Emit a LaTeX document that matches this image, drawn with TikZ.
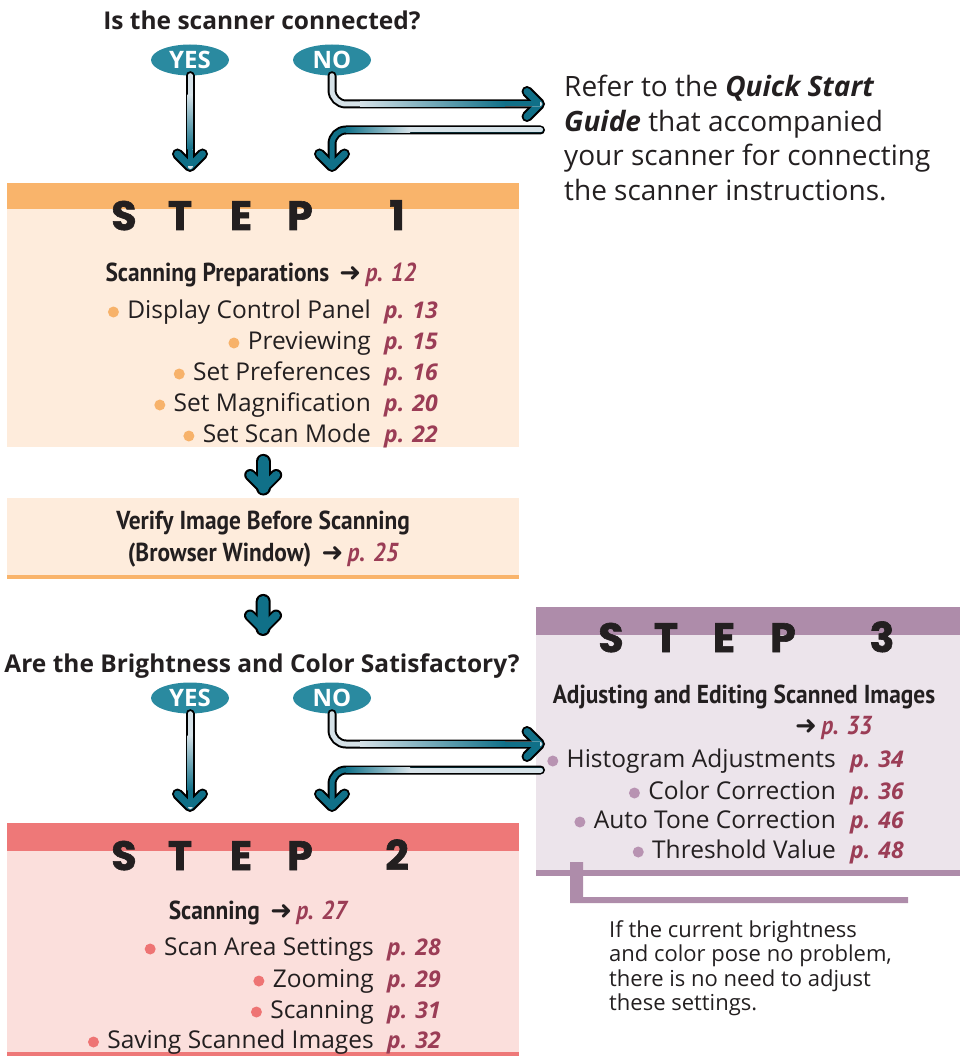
\documentclass[tikz,border=0pt]{standalone}
\usepackage{fontspec}
\setmainfont{Open Sans}
\newfontfamily\condfont{PT Sans}[FakeStretch=0.9]
\newfontfamily\stepfont{Poppins}[BoldFeatures={FakeBold=1.5}]
\newfontfamily\arrowfont{DejaVu Sans}
\usepackage{xcolor}
\usepackage{tikz}
\usetikzlibrary{shapes.geometric,positioning,calc}

\definecolor{ink}{HTML}{231F20}
\definecolor{ansteal}{HTML}{2A8AA0}
\definecolor{arrowteal}{HTML}{107088}
\definecolor{shaftlt}{HTML}{D6E2E8}
\definecolor{pagered}{HTML}{9B3D56}
\definecolor{onebar}{HTML}{F9B46B}
\definecolor{onebody}{HTML}{FEECDC}
\definecolor{twobar}{HTML}{EE7878}
\definecolor{twobody}{HTML}{FBDFDC}
\definecolor{threebar}{HTML}{AE8CAA}
\definecolor{threebody}{HTML}{ECE4EB}
\definecolor{onedot}{HTML}{F7B26A}
\definecolor{twodot}{HTML}{EE7474}
\definecolor{threedot}{HTML}{B893B2}

\newcommand{\pgarrow}{{\arrowfont\fontsize{26}{26}\selectfont ➜}}

\tikzset{
  chevdown/.pic={
    \draw[headrim] (-12.5,-12.5) -- (0,0) -- (12.5,-12.5);
    \draw[headcore] (-12.5,-12.5) -- (0,0) -- (12.5,-12.5);
  },
  chevright/.pic={
    \draw[headrim] (-12.5,-12.5) -- (0,0) -- (-12.5,12.5);
    \draw[headcore] (-12.5,-12.5) -- (0,0) -- (-12.5,12.5);
  },
  chevfat/.pic={
    \draw[headrim, line width=12pt] (-13,-13) -- (0,0) -- (13,-13);
    \draw[headcore, line width=8pt] (-13,-13) -- (0,0) -- (13,-13);
  },
}

\begin{document}
\begin{tikzpicture}[x=1pt, y=-1pt,
    ans/.style={ellipse, fill=ansteal, text=white, inner sep=0pt,
                minimum width=78pt, minimum height=31pt,
                font=\bfseries\fontsize{24}{24}\selectfont},
    quest/.style={anchor=base, inner sep=0pt, text=ink,
                  font=\bfseries\fontsize{24.5}{24.5}\selectfont},
    stepbox/.style={rectangle, anchor=north west, inner sep=0pt},
    steplet/.style={anchor=base, inner sep=0pt, text=ink,
                    font=\stepfont\bfseries\fontsize{41}{41}\selectfont},
    head/.style={anchor=base, inner sep=0pt, text=ink,
                 font=\condfont\bfseries\fontsize{26}{32}\selectfont},
    item/.style={anchor=base east, inner sep=0pt, text height=18pt, text depth=6pt,
                 text=ink, font=\fontsize{24.5}{24.5}\selectfont},
    pref/.style={inner sep=0pt, text height=18pt, text depth=6pt, text=pagered,
                 font=\bfseries\itshape\fontsize{23}{23}\selectfont},
    dot/.style={circle, inner sep=0pt, minimum size=11pt},
    rim/.style={draw=black, line width=9pt, line cap=round, rounded corners=14pt},
    core/.style={draw=shaftlt, line width=5pt, line cap=round, rounded corners=14pt},
    fatrim/.style={draw=black, line width=15pt, line cap=round},
    fatcore/.style={draw=arrowteal, line width=11pt, line cap=round},
    headrim/.style={draw=black, line width=11pt, line cap=round, line join=round},
    headcore/.style={draw=arrowteal, line width=7pt, line cap=round, line join=round},
  ]
  \useasboundingbox (0,0) rectangle (960,1056);

  % Step 1 box
  \node[stepbox, fill=onebody, minimum width=512pt, minimum height=264pt] (s1) at (7,183) {};
  \fill[onebar] (s1.north west) rectangle ([yshift=-26pt]s1.north east);
  \foreach \ch/\xx in {S/124, T/180, E/241, P/300, 1/397}
    \node[steplet] (s1l\ch) at (\xx,230) {\ch};
  \node[head] (prep) at (261,281) {Scanning Preparations \,\pgarrow\,\textcolor{pagered}{\itshape p. 12}};

  \node[item] (prep1) at (371,318) {Display Control Panel};
  \node[item] (prep2) at (371,349) {Previewing};
  \node[item] (prep3) at (371,380) {Set Preferences};
  \node[item] (prep4) at (371,411) {Set Magnification};
  \node[item] (prep5) at (371,442) {Set Scan Mode};
  \node[pref, right=13pt of prep1] (prep1pg) {p. 13};
  \node[pref, right=13pt of prep2] (prep2pg) {p. 15};
  \node[pref, right=13pt of prep3] (prep3pg) {p. 16};
  \node[pref, right=13pt of prep4] (prep4pg) {p. 20};
  \node[pref, right=13pt of prep5] (prep5pg) {p. 22};
  \node[dot, fill=onedot, left=8pt of prep1] (prep1dot) {};
  \node[dot, fill=onedot, left=8pt of prep2] (prep2dot) {};
  \node[dot, fill=onedot, left=8pt of prep3] (prep3dot) {};
  \node[dot, fill=onedot, left=8pt of prep4] (prep4dot) {};
  \node[dot, fill=onedot, left=8pt of prep5] (prep5dot) {};

  % Verify box
  \node[stepbox, fill=onebody, minimum width=512pt, minimum height=81pt,
        align=center, text=ink, font=\condfont\bfseries\fontsize{26}{32}\selectfont]
        (verify) at (7,498) {Verify Image Before Scanning\\(Browser Window) \,\pgarrow\,\textcolor{pagered}{\itshape p. 25}};
  \fill[onebar] ([yshift=4.5pt]verify.south west) rectangle (verify.south east);

  % Step 3 box
  \node[stepbox, fill=threebody, minimum width=424pt, minimum height=269pt] (s3) at (536,607) {};
  \fill[threebar] (s3.north west) rectangle ([yshift=-28pt]s3.north east);
  \fill[threebar] ([yshift=6pt]s3.south west) rectangle (s3.south east);
  \foreach \ch/\xx in {S/611, T/666, E/724, P/783, 3/882}
    \node[steplet] (s3l\ch) at (\xx,652) {\ch};
  \node[head] (adj) at (744,703) {Adjusting and Editing Scanned Images};
  \node[head, anchor=base west] (adjpg) at (795,734) {\pgarrow\,\textcolor{pagered}{\itshape p. 33}};

  \node[item] (adj1) at (836,767) {Histogram Adjustments};
  \node[item] (adj2) at (836,799) {Color Correction};
  \node[item] (adj3) at (836,828) {Auto Tone Correction};
  \node[item] (adj4) at (836,858) {Threshold Value};
  \node[pref, right=14pt of adj1] (adj1pg) {p. 34};
  \node[pref, right=14pt of adj2] (adj2pg) {p. 36};
  \node[pref, right=14pt of adj3] (adj3pg) {p. 46};
  \node[pref, right=14pt of adj4] (adj4pg) {p. 48};
  \node[dot, fill=threedot, left=8pt of adj1] (adj1dot) {};
  \node[dot, fill=threedot, left=8pt of adj2] (adj2dot) {};
  \node[dot, fill=threedot, left=8pt of adj3] (adj3dot) {};
  \node[dot, fill=threedot, left=8pt of adj4] (adj4dot) {};

  % callout bracket and note
  \fill[threebar] (570,862) -- (583,862) -- (583,897) -- (908,897) -- (908,903) -- (570,903) -- cycle;
  \node[anchor=north west, align=left, inner sep=0pt, text=ink,
        font=\fontsize{22}{24.5}\selectfont] (note) at (609,920)
        {If the current brightness\\and color pose no problem,\\there is no need to adjust\\these settings.};

  % Step 2 box
  \node[stepbox, fill=twobody, minimum width=512pt, minimum height=233pt] (s2) at (7,823) {};
  \fill[twobar] (s2.north west) rectangle ([yshift=-28pt]s2.north east);
  \fill[twobar] ([yshift=4pt]s2.south west) rectangle (s2.south east);
  \foreach \ch/\xx in {S/124, T/180, E/241, P/300, 2/397}
    \node[steplet] (s2l\ch) at (\xx,870) {\ch};
  \node[head] (scan) at (258,919) {Scanning \,\pgarrow\,\textcolor{pagered}{\itshape p. 27}};

  \node[item] (scan1) at (374,955) {Scan Area Settings};
  \node[item] (scan2) at (374,987) {Zooming};
  \node[item] (scan3) at (374,1018) {Scanning};
  \node[item] (scan4) at (374,1048) {Saving Scanned Images};
  \node[pref, right=13pt of scan1] (scan1pg) {p. 28};
  \node[pref, right=13pt of scan2] (scan2pg) {p. 29};
  \node[pref, right=13pt of scan3] (scan3pg) {p. 31};
  \node[pref, right=13pt of scan4] (scan4pg) {p. 32};
  \node[dot, fill=twodot, left=8pt of scan1] (scan1dot) {};
  \node[dot, fill=twodot, left=8pt of scan2] (scan2dot) {};
  \node[dot, fill=twodot, left=8pt of scan3] (scan3dot) {};
  \node[dot, fill=twodot, left=8pt of scan4] (scan4dot) {};

  % Reference text
  \node[anchor=north west, align=left, inner sep=0pt, text=ink,
        font=\fontsize{28}{34.5}\selectfont] (refer) at (564,75)
        {Refer to the \textbf{\itshape Quick Start}\\\textbf{\itshape Guide} that accompanied\\your scanner for connecting\\the scanner instructions.};

  % Question 1
  \node[quest] (q1) at (262,30) {Is the scanner connected?};
  \node[ans] (yes1) at (190,60) {YES};
  \node[ans] (no1) at (332,60) {NO};
  \coordinate (yes1tip) at (190,166.5);
  \coordinate (no1tip) at (539.5,104);
  \coordinate (back1) at (540.5,130);
  \coordinate (back1tip) at (332,166.5);

  \draw[rim] (yes1.south) -- (yes1tip);
  \pic at (yes1tip) {chevdown};
  \draw[core] (yes1.south) -- (yes1tip);
  \shade[top color=shaftlt, bottom color=arrowteal] (187.5,95) rectangle (192.5,150);
  \fill[arrowteal] (187.5,150) rectangle (192.5,166.5);

  \draw[rim] (no1.south) |- (no1tip);
  \pic at (no1tip) {chevright};
  \draw[core] (no1.south) |- (no1tip);
  \shade[left color=shaftlt, right color=arrowteal] (360,101.5) rectangle (505,106.5);
  \fill[arrowteal] (505,101.5) rectangle (539.5,106.5);

  \draw[rim] (back1) -| (back1tip);
  \pic at (back1tip) {chevdown};
  \draw[core, draw=arrowteal] (back1) -| (back1tip);
  \draw[core] (back1) -- (405,130);
  \shade[left color=arrowteal, right color=shaftlt] (346,127.5) rectangle (410,132.5);

  % Down arrows between boxes
  \coordinate (down1top) at ($(s1.south)+(0,14)$);
  \coordinate (down1tip) at ($(verify.north)+(0,-10)$);
  \draw[fatrim] (down1top) -- (down1tip);
  \pic at (down1tip) {chevfat};
  \draw[fatcore] (down1top) -- (down1tip);

  \coordinate (down2top) at ($(verify.south)+(0,22)$);
  \coordinate (down2tip) at (263,628.5);
  \draw[fatrim] (down2top) -- (down2tip);
  \pic at (down2tip) {chevfat};
  \draw[fatcore] (down2top) -- (down2tip);

  % Question 2
  \begin{scope}[yshift=-640pt]
    \node[quest] (q2) at (262,32) {Are the Brightness and Color Satisfactory?};
    \node[ans] (yes2) at (190,58) {YES};
    \node[ans] (no2) at (332,58) {NO};
    \coordinate (yes2tip) at (190,166.5);
    \coordinate (no2tip) at (539.5,104);
    \coordinate (back2) at (540.5,130);
    \coordinate (back2tip) at (332,166.5);

    \draw[rim] (yes2.south) -- (yes2tip);
    \pic at (yes2tip) {chevdown};
    \draw[core] (yes2.south) -- (yes2tip);
    \shade[top color=shaftlt, bottom color=arrowteal] (187.5,95) rectangle (192.5,150);
    \fill[arrowteal] (187.5,150) rectangle (192.5,166.5);

    \draw[rim] (no2.south) |- (no2tip);
    \pic at (no2tip) {chevright};
    \draw[core] (no2.south) |- (no2tip);
    \shade[left color=shaftlt, right color=arrowteal] (360,101.5) rectangle (505,106.5);
    \fill[arrowteal] (505,101.5) rectangle (539.5,106.5);

    \draw[rim] (back2) -| (back2tip);
    \pic at (back2tip) {chevdown};
    \draw[core, draw=arrowteal] (back2) -| (back2tip);
    \draw[core] (back2) -- (405,130);
    \shade[left color=arrowteal, right color=shaftlt] (346,127.5) rectangle (410,132.5);
  \end{scope}
\end{tikzpicture}
\end{document}
